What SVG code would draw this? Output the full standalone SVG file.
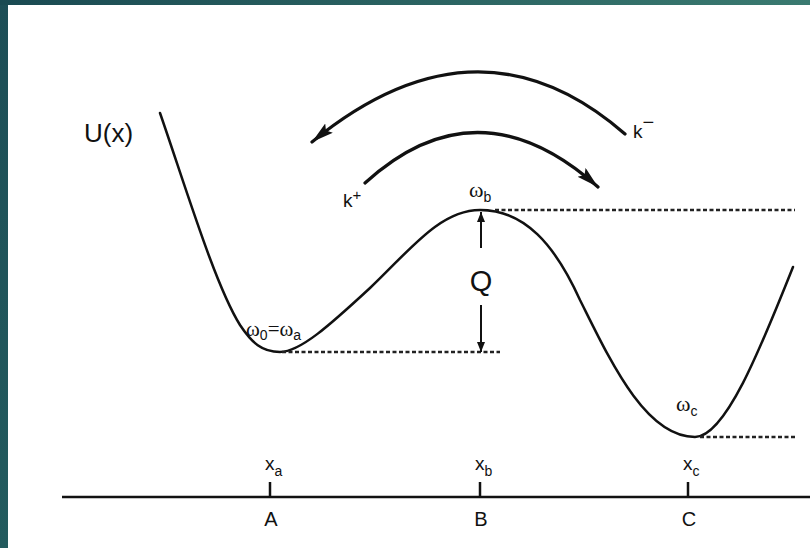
<svg xmlns="http://www.w3.org/2000/svg" width="810" height="548" viewBox="0 0 810 548">
<defs>
<linearGradient id="topbar" x1="0" y1="0" x2="1" y2="0">
<stop offset="0" stop-color="#1a4a52"/>
<stop offset="1" stop-color="#3a7a70"/>
</linearGradient>
<linearGradient id="leftbar" x1="0" y1="0" x2="0" y2="1">
<stop offset="0" stop-color="#1d4e56"/>
<stop offset="1" stop-color="#235b5e"/>
</linearGradient>
<marker id="arc-head" markerUnits="userSpaceOnUse" markerWidth="26" markerHeight="14" refX="22" refY="6" orient="auto">
<path d="M0,0 L22,6 L0,12 L4,6 z" fill="#111"/>
</marker>
<marker id="q-head" markerUnits="userSpaceOnUse" markerWidth="10" markerHeight="14" refX="10" refY="4" orient="auto">
<path d="M0,0 L10,4 L0,8 z" fill="#111"/>
</marker>
</defs>
<style>
.curve{fill:none;stroke:#111;stroke-width:2.5;stroke-linecap:round}
.dash{fill:none;stroke:#222;stroke-width:2.4;stroke-dasharray:4 2.5}
.arc{fill:none;stroke:#111;stroke-width:3.2;stroke-linecap:round}
.qline{fill:none;stroke:#111;stroke-width:2}
.axis{fill:none;stroke:#111;stroke-width:2.5}
.sans{font-family:"Liberation Sans",Arial,sans-serif;fill:#111}
.serif{font-family:"Liberation Serif","Times New Roman",serif;fill:#111}
</style>
<rect x="0" y="0" width="810" height="548" fill="#ffffff"/>
<rect x="0" y="0" width="8" height="548" fill="url(#leftbar)"/>
<rect x="0" y="0" width="810" height="5" fill="url(#topbar)"/>

<g id="potential-curve">
<path class="curve" d="M160,113 C185,185 215,285 240,325 C252,343 262,352 280,352 C300,352 330,325 370,288 C410,250 440,210 480,210 C525,210 555,245 580,300 C610,360 645,437 695,437 C725,437 760,350 793,267"/>
</g>

<g id="levels">
<line class="dash" x1="495" y1="210" x2="795" y2="210"/>
<line class="dash" x1="282" y1="352" x2="500" y2="352"/>
<line class="dash" x1="700" y1="437" x2="795" y2="437"/>
</g>

<g id="connectors">
<path id="arc-kminus" class="arc" d="M625,134 Q478,6 312,142" marker-end="url(#arc-head)"/>
<path id="arc-kplus" class="arc" d="M365,183 Q478,80 598,187" marker-end="url(#arc-head)"/>
<line class="qline" x1="481" y1="248" x2="481" y2="212" marker-end="url(#q-head)"/>
<line class="qline" x1="481" y1="305" x2="481" y2="352" marker-end="url(#q-head)"/>
</g>

<g id="label-U">
<text class="sans" x="84" y="142" font-size="26">U(x)</text>
</g>
<g id="label-Q">
<text class="sans" x="481" y="291" font-size="29" text-anchor="middle">Q</text>
</g>
<g id="label-kminus">
<text class="sans" x="633" y="138" font-size="19">k<tspan dy="-9" font-size="20">−</tspan></text>
</g>
<g id="label-kplus">
<text class="sans" x="343" y="207" font-size="19">k<tspan dy="-7" font-size="15">+</tspan></text>
</g>
<g id="label-wb">
<text class="serif" x="469" y="197" font-size="22">ω<tspan class="sans" dy="5" font-size="14">b</tspan></text>
</g>
<g id="label-wa">
<text class="serif" x="246" y="336" font-size="21">ω<tspan class="sans" dy="4" font-size="14">0</tspan><tspan dy="-4">=ω</tspan><tspan class="sans" dy="4" font-size="14">a</tspan></text>
</g>
<g id="label-wc">
<text class="serif" x="676" y="411" font-size="22">ω<tspan class="sans" dy="5" font-size="14">c</tspan></text>
</g>

<g id="axis">
<line class="axis" x1="62" y1="497" x2="810" y2="497"/>
<line class="axis" x1="270" y1="482" x2="270" y2="497"/>
<line class="axis" x1="480" y1="482" x2="480" y2="497"/>
<line class="axis" x1="688" y1="482" x2="688" y2="497"/>
</g>
<g id="tick-A">
<text class="sans" x="265" y="470" font-size="19">x<tspan dy="6" font-size="14">a</tspan></text>
<text class="sans" x="271" y="526" font-size="20" text-anchor="middle">A</text>
</g>
<g id="tick-B">
<text class="sans" x="475" y="470" font-size="19">x<tspan dy="6" font-size="14">b</tspan></text>
<text class="sans" x="481" y="526" font-size="20" text-anchor="middle">B</text>
</g>
<g id="tick-C">
<text class="sans" x="683" y="470" font-size="19">x<tspan dy="6" font-size="14">c</tspan></text>
<text class="sans" x="689" y="526" font-size="20" text-anchor="middle">C</text>
</g>
</svg>
